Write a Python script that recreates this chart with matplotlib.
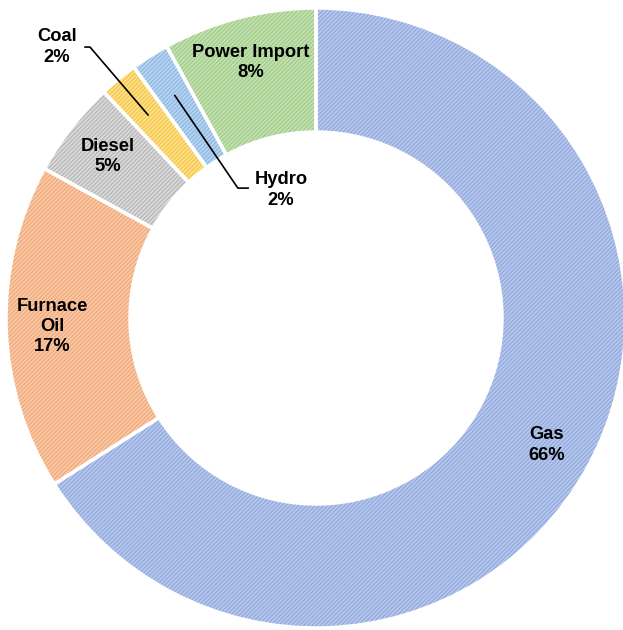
import numpy as np
import matplotlib.pyplot as plt

plt.rcParams["font.family"] = ["Liberation Sans", "DejaVu Sans"]
plt.rcParams["hatch.linewidth"] = 0.8

# Fuel mix shares (%), clockwise from 12 o'clock
sources = ["Gas", "Furnace\nOil", "Diesel", "Coal", "Hydro", "Power Import"]
shares = [66, 17, 5, 2, 2, 8]
face_colors = ["#b7c8ec", "#f9c9a6", "#dadada", "#ffe08a", "#b8d4f0", "#c3e0b1"]
hatch_colors = ["#8ea6dc", "#f0a676", "#b3b3b3", "#f2c443", "#88b6e2", "#9fcb85"]

fig = plt.figure(figsize=(6.23, 6.30), dpi=100)
ax = fig.add_axes([0, 0, 1, 1])

ring = dict(width=0.4)
start = 90

# base fill
ax.pie(shares, radius=1, colors=face_colors, startangle=start, counterclock=False,
       wedgeprops=dict(ring, linewidth=0))
# fine diagonal hatching on top of the fill
wedges, _ = ax.pie(shares, radius=1, colors=["none"] * len(shares), startangle=start,
                   counterclock=False, wedgeprops=dict(ring, linewidth=0))
for w, hc in zip(wedges, hatch_colors):
    w.set_hatch("////////")
    w.set_edgecolor(hc)
    w.set_linewidth(0)
# white separators
ax.pie(shares, radius=1, colors=["none"] * len(shares), startangle=start,
       counterclock=False, wedgeprops=dict(ring, linewidth=2.5, edgecolor="white"))

# mid angle of each wedge (degrees)
cum = np.cumsum([0] + shares)
mid = [start - 360 * (cum[i] + shares[i] / 2) / 100 for i in range(len(shares))]

label_kw = dict(ha="center", va="center", fontsize=13.2, fontweight="bold",
                color="black", linespacing=1.25)
r_lab = 0.85
for i, name in enumerate(sources):
    if name in ("Coal", "Hydro"):
        continue
    a = np.deg2rad(mid[i])
    ax.text(r_lab * np.cos(a), r_lab * np.sin(a), f"{name}\n{shares[i]}%", **label_kw)

# leader lines for the two small slices: text centre, line start, elbow
callouts = {
    "Coal": ((-0.835, 0.874), (-0.745, 0.874), (-0.729, 0.874)),
    "Hydro": ((-0.113, 0.413), (-0.219, 0.419), (-0.252, 0.419)),
}
for i, name in enumerate(sources):
    if name not in callouts:
        continue
    a = np.deg2rad(mid[i])
    tip = (r_lab * np.cos(a), r_lab * np.sin(a))
    text_xy, line_start, elbow = callouts[name]
    ax.plot([line_start[0], elbow[0], tip[0]], [line_start[1], elbow[1], tip[1]],
            color="black", linewidth=1.2)
    ax.text(text_xy[0], text_xy[1], f"{name}\n{shares[i]}%", **label_kw)

# place the ring within the canvas
scale = 310.0
cx, cy = 316.0, 318.0
ax.set_xlim(-cx / scale, (623 - cx) / scale)
ax.set_ylim(-(630 - cy) / scale, cy / scale)
ax.set_aspect("equal")
ax.axis("off")

fig.savefig("out.png", dpi=100)
